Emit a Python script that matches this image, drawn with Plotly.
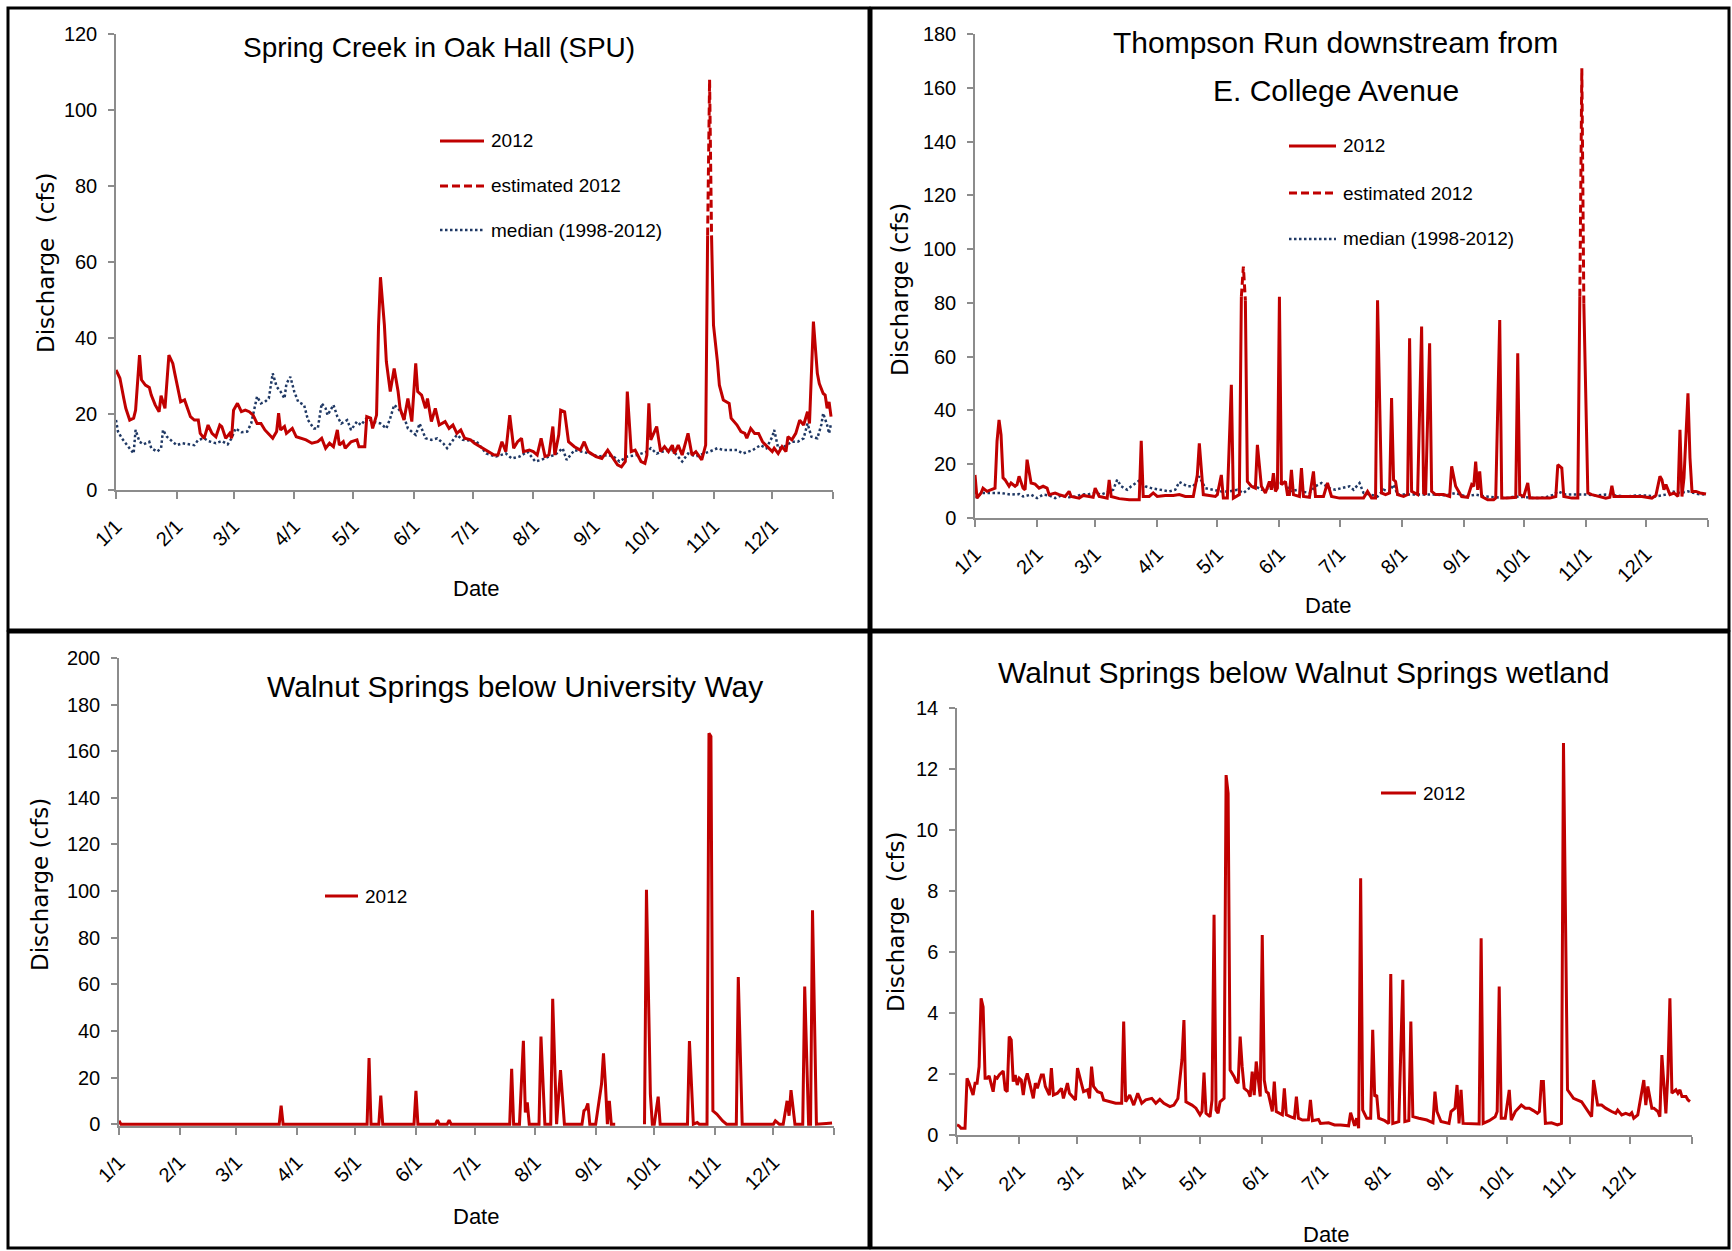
import pandas as pd
import plotly.graph_objects as go

W, H = 1732, 1251
START = pd.Timestamp("2012-01-01")

# ---------------- tick labels ----------------
month_ticks = ["2012-01-01", "2012-02-01", "2012-03-01", "2012-04-01", "2012-05-01", "2012-06-01",
               "2012-07-01", "2012-08-01", "2012-09-01", "2012-10-01", "2012-11-01", "2012-12-01",
               "2013-01-01"]
month_labels = ["1/1", "2/1", "3/1", "4/1", "5/1", "6/1", "7/1", "8/1", "9/1", "10/1", "11/1", "12/1", ""]

# ---------------- data: (day of year, 0 = 1 Jan 2012; discharge cfs) ----------------
spring_2012 = [
    (0, 31.6), (2, 29.4), (4, 24), (5, 21.5), (7, 18.4), (9, 18.9), (10, 21), (12, 35.5), (13, 29),
    (15, 27.6), (17, 27), (18, 25), (20, 22.4), (22, 20.6), (23, 24.8), (25, 21.5), (27, 35.5),
    (29, 33.3), (30, 30.7), (32, 25.9), (33, 23.2), (35, 23.7), (37, 20.6), (38, 19.3), (40, 18.4),
    (42, 18.4), (43, 14.9), (45, 13.6), (47, 17.1), (49, 14.9), (51, 14), (53, 17.1), (54, 16.7),
    (56, 13.6), (58, 14.9), (59, 13.6), (60, 21), (62, 22.8), (64, 20.6), (66, 21), (68, 20.6),
    (70, 19.7), (72, 17.5), (74, 17.5), (76, 15.8), (80, 13.6), (82, 15.4), (83, 20.2), (84, 15.8),
    (86, 16.7), (87, 14.9), (90, 16.2), (92, 14), (95, 13.6), (97, 13.2), (100, 12.3), (103, 12.7),
    (105, 13.6), (107, 11), (109, 12.3), (111, 11.4), (113, 15.8), (114, 11.8), (116, 12.7), (117, 11),
    (120, 12.7), (123, 13.2), (124, 11.4), (127, 11.4), (128, 19.3), (130, 18.9), (131, 16.2),
    (133, 19.7), (134, 43), (135, 56), (137, 43.4), (138, 33.8), (140, 25.9), (142, 32), (144, 25.9),
    (145, 21.5), (147, 18.4), (149, 24.1), (151, 18), (153, 33.3), (154, 25.9), (156, 25), (158, 21.5),
    (159, 24.1), (161, 18), (163, 21.5), (165, 17.1), (168, 18), (170, 16.2), (172, 17.1), (174, 14.9),
    (176, 15.8), (178, 13.6), (181, 13.2), (183, 12.3), (187, 11), (190, 10.1), (193, 9.2), (195, 9.2),
    (197, 12.7), (199, 10.1), (201, 19.7), (203, 11), (205, 12.7), (207, 13.6), (208, 10.1), (211, 10.5),
    (213, 10.1), (215, 9.2), (217, 13.6), (219, 8.8), (221, 9.2), (223, 16.7), (224, 9.2), (226, 14.5),
    (227, 21), (229, 20.6), (231, 12.7), (234, 11.4), (237, 10.5), (239, 12.7), (241, 10.1), (245, 8.8),
    (248, 8.3), (251, 10.5), (253, 8.8), (256, 6.6), (258, 6.1), (260, 7.5), (261, 25.9), (263, 10.1),
    (265, 10.5), (267, 8.3), (268, 7.5), (270, 7), (271, 9.2), (272, 22.8), (273, 13.2), (276, 16.7),
    (278, 10.1), (280, 11.4), (282, 10.1), (284, 11.8), (285, 9.6), (287, 11.8), (289, 9.2), (292, 14.9),
    (294, 9.2), (296, 10.1), (299, 7.9), (301, 11.8), (302, 67), (303, None), (304, 67), (305, 43.4),
    (307, 33.8), (308, 27.6), (310, 23.7), (313, 22.8), (314, 18.9), (317, 17.1), (319, 15.4),
    (321, 14.9), (322, 13.6), (324, 16.2), (326, 14.9), (328, 14.9), (330, 12.7), (333, 11), (335, 10.1),
    (336, 11), (338, 9.6), (340, 11.4), (342, 10.1), (343, 14), (345, 13.2), (347, 14.9), (349, 18.4),
    (351, 17.1), (353, 20.6), (354, 17.5), (356, 44.3), (358, 30.7), (359, 28), (361, 25.4), (362, 25),
    (363, 21.5), (364, 23.2), (365, 19.3),
]
spring_est = [(302, 67), (303, 108), (304, 67)]
spring_median = [
    (0, 18.4), (1, 15.4), (3, 13.6), (5, 12.3), (8, 10.5), (9, 9.6), (10, 15.8), (12, 12.7), (14, 12),
    (17, 12.7), (18, 11), (21, 10.1), (23, 11), (24, 15.8), (26, 14), (29, 12.7), (31, 11.8), (34, 12.3),
    (37, 12), (40, 11.8), (42, 13.2), (45, 13.6), (47, 12.9), (51, 12.3), (54, 12.9), (57, 12), (59, 13.6),
    (61, 16.2), (64, 15.2), (67, 15.4), (69, 17.5), (72, 24.6), (74, 22.8), (76, 23.2), (78, 24.1),
    (80, 30.7), (82, 27.2), (84, 25.9), (86, 24.1), (87, 28), (89, 29.8), (91, 25.9), (93, 23.2),
    (96, 22.4), (98, 18.4), (101, 16.2), (103, 16.2), (105, 22.8), (107, 21.5), (108, 19.7), (111, 22.4),
    (113, 19.3), (115, 17.5), (118, 18.4), (120, 15.8), (123, 18), (125, 17.1), (128, 18.9), (131, 18),
    (135, 17.5), (138, 16.2), (140, 18.9), (142, 22.4), (144, 21.5), (147, 19.3), (149, 16.2), (153, 14.5),
    (155, 17.5), (158, 13.6), (161, 13.2), (164, 13.6), (167, 12.3), (169, 11), (172, 13.2), (174, 14.5),
    (177, 13.2), (181, 13), (184, 12.8), (189, 9.6), (194, 8.8), (199, 9.6), (202, 8.3), (206, 8.8),
    (210, 10.1), (214, 7.5), (217, 7.9), (221, 8.8), (224, 9.2), (228, 11), (230, 7.9), (234, 10.5),
    (238, 10.1), (242, 9.6), (246, 8.8), (251, 9.2), (254, 8.8), (257, 7.5), (261, 8.8), (266, 9.2),
    (271, 10.1), (273, 11), (276, 9.6), (279, 10.1), (284, 10.5), (287, 8.8), (289, 7.5), (292, 9.6),
    (296, 8.8), (300, 9.6), (303, 10.1), (307, 11), (310, 10.5), (313, 10.5), (317, 10.5), (320, 9.6),
    (325, 10.5), (329, 11.8), (332, 11), (335, 14), (336, 15.8), (338, 11), (341, 11.4), (345, 12.7),
    (348, 12.7), (351, 13.6), (353, 17.5), (355, 14), (358, 13.6), (360, 17.1), (361, 20.2), (363, 17.1),
    (364, 14.9), (365, 17.5),
]

thompson_2012 = [
    (0, 16), (1, 7.4), (3, 9.3), (4, 11.1), (6, 9.9), (8, 10.5), (10, 11.1), (11, 28.5), (12, 36.5),
    (13, 30.9), (14, 14.9), (15, 14.2), (17, 11.8), (18, 13), (20, 11.8), (21, 12.4), (22, 15.5),
    (24, 11.1), (25, 10.5), (26, 21.7), (27, 16.7), (28, 13), (30, 12.6), (32, 11.1), (34, 11.8),
    (36, 11.1), (37, 8.7), (40, 9.3), (42, 8.7), (45, 8), (47, 9.9), (48, 8), (52, 7.4), (54, 8.4),
    (57, 8), (59, 7.7), (60, 11.1), (62, 8), (64, 7.7), (66, 7.4), (67, 14.2), (68, 8), (72, 7.2),
    (77, 6.8), (82, 6.8), (83, 28.7), (84, 8), (87, 8), (89, 9.3), (91, 8), (95, 8.4), (99, 8.4),
    (102, 8.7), (105, 8), (109, 8), (111, 16), (112, 27.8), (114, 8.7), (117, 8.4), (120, 8), (121, 8.7),
    (123, 16), (124, 7.4), (126, 7.4), (128, 49.5), (129, 7.4), (132, 8.7), (133, 82.3), (134, None),
    (135, 81), (136, 13.6), (138, 11.8), (140, 11.1), (141, 27.2), (143, 11.8), (145, 9.3), (147, 13.6),
    (148, 10.5), (149, 16.7), (150, 9.9), (151, 11.1), (152, 82.3), (153, 12.4), (155, 13.6), (156, 8.7),
    (157, 8.7), (158, 17.9), (159, 8.7), (162, 8), (163, 18.6), (164, 8), (167, 7.7), (169, 17.3),
    (170, 8), (174, 8), (176, 13), (178, 8), (182, 7.4), (187, 7.4), (194, 7.4), (196, 9.9), (198, 7.4),
    (200, 7.4), (201, 81), (203, 9.3), (205, 8.7), (207, 9.3), (208, 44.6), (209, 14.2), (210, 13.6),
    (211, 8.7), (214, 8), (216, 8.7), (217, 66.8), (218, 9.9), (221, 8.7), (223, 71.2), (224, 9.3),
    (225, 8.7), (227, 65), (228, 9.9), (230, 8.7), (234, 8.7), (237, 8), (238, 19.2), (240, 11.8),
    (241, 10.5), (243, 8), (246, 7.7), (248, 12.4), (249, 11.8), (250, 21), (251, 10.5), (252, 17.3),
    (253, 8), (256, 6.8), (259, 6.8), (260, 7.4), (262, 73.6), (263, 7.4), (266, 7.4), (270, 7.7),
    (271, 61.3), (272, 8.7), (274, 8), (276, 13), (277, 7.4), (280, 7.4), (283, 7.4), (287, 7.4),
    (290, 8), (291, 19.8), (293, 18.6), (294, 8), (298, 7.4), (301, 7.4), (302, 82.3), (303, None),
    (304, 79.8), (306, 9.3), (308, 8.7), (312, 8), (315, 7.4), (317, 7.7), (318, 12), (319, 8), (323, 8),
    (328, 8), (333, 8), (338, 7.4), (340, 8.4), (342, 15.5), (343, 14.2), (344, 10.5), (345, 12.4),
    (347, 8.7), (349, 9.3), (351, 8), (352, 32.8), (353, 8), (354, 14.9), (356, 46.4), (357, 22.3),
    (358, 9.9), (360, 9.9), (362, 9.3), (365, 8.9),
]
thompson_est_may = [(133, 82.3), (134, 93.5), (135, 81)]
thompson_est_oct = [(302, 82.3), (303, 167.3), (304, 79.8)]
thompson_median = [
    (0, 9.9), (1, 7.4), (3, 9.3), (8, 9.3), (13, 9.3), (18, 8.7), (22, 8.9), (24, 8), (28, 8.7), (31, 7.4),
    (34, 8.7), (37, 8.4), (40, 7.4), (43, 8.4), (47, 7.7), (50, 8), (53, 8.7), (57, 8.9), (60, 9.3),
    (63, 8.7), (67, 9.9), (69, 10.5), (71, 14.2), (73, 11.8), (76, 10.5), (78, 11.8), (82, 13.9),
    (85, 11.8), (88, 11.1), (92, 10.5), (97, 9.9), (100, 10.5), (102, 13.4), (106, 11.8), (109, 11.8),
    (112, 15.5), (115, 11.1), (119, 10.5), (123, 9.9), (127, 9.9), (131, 10.5), (134, 9.3), (137, 11.1),
    (140, 11.8), (143, 10.5), (147, 11.1), (150, 11.8), (152, 13), (155, 13), (157, 9.9), (161, 10.5),
    (163, 9.9), (167, 9.3), (170, 11.8), (173, 13), (177, 11.1), (180, 10.5), (183, 11.1), (187, 11.8),
    (189, 10.5), (192, 13), (194, 9.3), (197, 8.7), (201, 8), (204, 10.5), (207, 9.9), (209, 12.4),
    (211, 8.7), (215, 8.7), (220, 8.7), (225, 8.7), (230, 8.7), (235, 8.4), (240, 9.3), (245, 8),
    (250, 8.7), (255, 8), (260, 7.7), (265, 7.4), (270, 8), (275, 7.7), (280, 7.4), (285, 7.7),
    (289, 8.7), (291, 9.9), (295, 8.7), (300, 8.7), (305, 8.7), (310, 8.4), (315, 8.7), (320, 8.4),
    (325, 8), (330, 8.4), (335, 8.4), (340, 8), (345, 8.7), (348, 9.9), (352, 9.3), (356, 9.9),
    (361, 8.9), (365, 8.7),
]

walnut_univ_2012 = [
    (0, 1.5), (1, 0), (82, 0), (83, 7.9), (84, 0), (127, 0), (128, 28.4), (129, 0), (133, 0), (134, 12.2),
    (135, 0), (151, 0), (152, 14.3), (153, 0), (162, 0), (163, 1.7), (164, 0), (168, 0), (169, 1.7),
    (170, 0), (200, 0), (201, 23.7), (202, 0), (205, 0), (207, 35.8), (208, 5), (209, 9.3), (210, 0),
    (215, 0), (216, 37.6), (218, 0), (221, 0), (222, 53.8), (224, 0), (226, 23.2), (228, 0), (237, 0),
    (238, 5.7), (239, 6.5), (240, 8.9), (241, 0), (244, 0), (247, 17.2), (248, 30.4), (249, 17.2),
    (250, 0), (251, 10), (252, 0), (254, 0), (255, None), (269, 0), (270, 100.6), (272, 12.9), (273, 0),
    (274, 0), (276, 11.8), (277, 0), (291, 0), (292, 35.6), (294, 0), (296, 0.7), (297, 0), (301, 0),
    (302, 167.7), (303, 166.3), (304, 5.7), (306, 4.3), (309, 1.4), (311, 0), (316, 0), (317, 63.1),
    (319, 0), (335, 0), (336, 1.4), (338, 0), (340, 0), (342, 10), (343, 3.6), (344, 14.6), (346, 0),
    (350, 0), (351, 59), (353, 0), (354, 0), (355, 91.8), (357, 0), (362, 0.3), (365, 0.5),
]

walnut_wet_2012 = [
    (0, 0.33), (1, 0.3), (2, 0.22), (4, 0.22), (5, 1.86), (6, 1.7), (8, 1.31), (9, 1.7), (10, 1.7),
    (11, 2.24), (12, 4.48), (13, 4.2), (14, 1.86), (15, 1.86), (16, 1.94), (18, 1.42), (19, 1.9),
    (20, 1.86), (21, 1.97), (23, 2.1), (24, 1.48), (25, 1.42), (26, 3.23), (27, 3.12), (28, 1.75),
    (29, 1.97), (30, 1.64), (31, 1.86), (32, 1.8), (33, 1.31), (34, 1.8), (35, 2.02), (36, 1.75),
    (38, 1.2), (39, 1.7), (40, 1.53), (42, 1.97), (43, 1.97), (44, 1.59), (46, 1.31), (47, 2.19),
    (48, 1.31), (50, 1.37), (52, 1.53), (53, 1.2), (55, 1.7), (56, 1.37), (58, 1.2), (59, 1.15),
    (60, 2.19), (62, 1.7), (63, 1.42), (65, 1.48), (66, 1.2), (67, 2.24), (68, 1.59), (70, 1.42),
    (72, 1.37), (73, 1.15), (76, 1.09), (79, 1.04), (82, 1.04), (83, 3.72), (84, 1.09), (86, 1.31),
    (88, 0.98), (90, 1.37), (92, 1.04), (94, 1.15), (97, 1.2), (99, 1.04), (101, 1.17), (103, 1.04),
    (106, 0.93), (108, 0.98), (110, 1.2), (112, 2.46), (113, 3.77), (114, 1.09), (117, 0.98), (119, 0.88),
    (121, 0.66), (122, 0.77), (123, 2.05), (124, 0.71), (126, 0.6), (127, 1.15), (128, 7.22), (129, 0.82),
    (130, 0.71), (131, 1.09), (133, 1.2), (134, 11.8), (135, 11.2), (136, 2.13), (138, 1.91), (139, 1.75),
    (140, 1.7), (141, 3.23), (142, 2.24), (143, 1.53), (145, 1.42), (146, 1.26), (147, 2.08), (148, 1.31),
    (149, 2.41), (151, 1.26), (152, 6.56), (153, 1.8), (154, 1.42), (155, 1.37), (157, 0.77), (158, 1.75),
    (159, 0.77), (161, 0.69), (162, 0.66), (163, 1.53), (164, 0.66), (166, 0.6), (168, 0.55), (169, 1.26),
    (170, 0.55), (172, 0.49), (175, 0.5), (176, 1.15), (177, 0.47), (180, 0.51), (181, 0.38), (185, 0.4),
    (188, 0.33), (191, 0.33), (195, 0.3), (196, 0.73), (198, 0.3), (199, 0.55), (200, 0.22), (201, 8.42),
    (202, 0.82), (204, 0.55), (206, 0.55), (207, 3.45), (208, 1.26), (209, 1.31), (210, 0.55), (213, 0.47),
    (215, 0.38), (216, 5.28), (217, 0.38), (220, 0.44), (222, 5.09), (223, 0.44), (225, 0.47), (226, 3.72),
    (227, 0.6), (230, 0.55), (234, 0.49), (237, 0.4), (238, 1.42), (239, 0.77), (241, 0.44), (245, 0.38),
    (246, 0.77), (248, 0.88), (249, 1.64), (250, 0.38), (251, 1.48), (252, 0.38), (256, 0.38), (260, 0.36),
    (261, 6.45), (262, 0.38), (265, 0.47), (268, 0.6), (269, 0.77), (270, 4.87), (271, 0.55), (273, 0.55),
    (275, 1.48), (276, 0.49), (278, 0.77), (281, 0.98), (283, 0.88), (285, 0.88), (287, 0.8), (289, 0.71),
    (290, 0.77), (291, 1.75), (292, 1.75), (293, 0.38), (296, 0.4), (299, 0.33), (301, 0.38), (302, 12.85),
    (304, 1.48), (307, 1.2), (311, 1.09), (313, 0.88), (316, 0.6), (317, 1.8), (319, 0.98), (321, 0.98),
    (323, 0.88), (326, 0.77), (328, 0.71), (329, 0.82), (331, 0.66), (333, 0.71), (335, 0.66), (336, 0.73),
    (337, 0.55), (339, 0.66), (341, 1.48), (342, 1.8), (343, 0.98), (344, 1.59), (346, 0.88), (347, 0.88),
    (349, 0.77), (350, 0.6), (351, 2.62), (353, 0.71), (354, 2.02), (355, 4.48), (356, 1.37), (358, 1.48),
    (359, 1.37), (360, 1.48), (361, 1.26), (363, 1.26), (364, 1.15), (365, 1.1),
]

# ---------------- styling ----------------
RED = "#C00000"
NAVY = "#1F3864"
AXIS = "#8C8C8C"
FONT = "Liberation Sans, Arial, sans-serif"
WIDE = "DejaVu Sans, Verdana, sans-serif"


def series(pairs):
    d = [START + pd.Timedelta(days=p[0]) for p in pairs]
    v = [p[1] for p in pairs]
    return d, v


def fx(p):
    return p / W


def fy(p):
    return 1 - p / H


# pixel layout of each panel: plot-area edges
panels = [
    dict(x0=116, x1=833, yt=34, yb=490, rng=[0, 120], dt=20),
    dict(x0=975, x1=1708, yt=34, yb=518, rng=[0, 180], dt=20),
    dict(x0=119, x1=834, yt=658, yb=1126, rng=[-0.8, 200], dt=20),
    dict(x0=957, x1=1692, yt=708, yb=1135, rng=[0, 14], dt=2),
]

fig = go.Figure()

layout = dict(width=W, height=H, margin=dict(l=0, r=0, t=0, b=0, pad=0, autoexpand=False), autosize=False,
              paper_bgcolor="white", plot_bgcolor="white", showlegend=False)

for i, p in enumerate(panels, start=1):
    sfx = "" if i == 1 else str(i)
    layout["xaxis" + sfx] = dict(
        type="date", domain=[fx(p["x0"]), fx(p["x1"])], anchor="y" + sfx, automargin=False,
        range=["2012-01-01", "2013-01-01"], tickmode="array", tickvals=month_ticks, ticktext=month_labels,
        tickangle=-45, showline=True, linecolor=AXIS, linewidth=1.5, ticks="outside", ticklen=7,
        tickwidth=1.5, tickcolor=AXIS, showgrid=False, zeroline=False, layer="below traces",
        tickfont=dict(family=FONT, size=20, color="black"), ticklabelstandoff=8,
    )
    layout["yaxis" + sfx] = dict(
        domain=[fy(p["yb"]), fy(p["yt"])], anchor="x" + sfx, range=p["rng"], tick0=0, dtick=p["dt"],
        automargin=False,
        showline=True, linecolor=AXIS, linewidth=1.5, ticks="outside", ticklen=6, tickwidth=1.5,
        tickcolor=AXIS, showgrid=False, zeroline=False, layer="below traces",
        tickfont=dict(family=FONT, size=20, color="black"), ticklabelstandoff=7,
    )

fig.update_layout(**layout)


def add_line(pairs, ax, color, width, dash="solid"):
    d, v = series(pairs)
    fig.add_trace(go.Scatter(x=d, y=v, mode="lines", line=dict(color=color, width=width, dash=dash),
                             xaxis="x" + ax, yaxis="y" + ax, hoverinfo="skip", connectgaps=False))


DOT = "2.5px,2.5px"
DASH = "8px,4px"

# panel 1
add_line(spring_median, "", NAVY, 2.5, DOT)
add_line(spring_2012, "", RED, 3)
add_line(spring_est, "", RED, 3, DASH)
# panel 2
add_line(thompson_median, "2", NAVY, 2.5, DOT)
add_line(thompson_2012, "2", RED, 3)
add_line(thompson_est_may, "2", RED, 3, DASH)
add_line(thompson_est_oct, "2", RED, 3, DASH)
# panel 3
add_line(walnut_univ_2012, "3", RED, 3)
# panel 4
add_line(walnut_wet_2012, "4", RED, 3)

shapes = []
annotations = []

# panel frames
for (a, b, c, d) in [(8, 8, 869, 630), (871, 8, 1729, 630), (8, 632, 869, 1248), (871, 632, 1729, 1248)]:
    shapes.append(dict(type="rect", xref="paper", yref="paper", x0=fx(a), x1=fx(c), y0=fy(b), y1=fy(d),
                       line=dict(color="black", width=3), fillcolor="rgba(0,0,0,0)", layer="above"))


def text(x, y, s, size, family=FONT, xanchor="center", angle=0):
    annotations.append(dict(x=fx(x), y=fy(y), xref="paper", yref="paper", text=s, showarrow=False,
                            xanchor=xanchor, yanchor="middle", textangle=angle,
                            font=dict(family=family, size=size, color="black")))


def legend_item(x0, x1, y, label, color, width, dash):
    shapes.append(dict(type="line", xref="paper", yref="paper", x0=fx(x0), x1=fx(x1), y0=fy(y), y1=fy(y),
                       line=dict(color=color, width=width, dash=dash)))
    text(x1 + 5, y, label, 19, xanchor="left")


# titles
text(439, 47, "Spring Creek in Oak Hall (SPU)", 28)
text(1335, 43, "Thompson Run downstream from", 30)
text(1336, 91, "E. College Avenue", 30)
text(515, 686, "Walnut Springs below University Way", 30)
text(1303, 672, "Walnut Springs below Walnut Springs wetland", 30)

# axis titles
text(476, 588, "Date", 22)
text(1328, 605, "Date", 22)
text(476, 1216, "Date", 22)
text(1326, 1234, "Date", 22)
text(46, 263, "Discharge\u00a0\u00a0(cfs)", 23, family=WIDE, angle=-90)
text(900, 290, "Discharge (cfs)", 23, family=WIDE, angle=-90)
text(40, 885, "Discharge (cfs)", 23, family=WIDE, angle=-90)
text(896, 922, "Discharge\u00a0\u00a0(cfs)", 23, family=WIDE, angle=-90)

# legends
legend_item(440, 484, 141, "2012", RED, 3, "solid")
legend_item(440, 484, 186, "estimated 2012", RED, 3, DASH)
legend_item(440, 484, 230, "median (1998-2012)", NAVY, 2.5, DOT)
legend_item(1289, 1336, 146, "2012", RED, 3, "solid")
legend_item(1289, 1336, 193, "estimated 2012", RED, 3, DASH)
legend_item(1289, 1336, 239, "median (1998-2012)", NAVY, 2.5, DOT)
legend_item(325, 358, 896, "2012", RED, 3, "solid")
legend_item(1381, 1416, 793, "2012", RED, 3, "solid")

fig.update_layout(shapes=shapes, annotations=annotations)
fig.write_html("out.html")
